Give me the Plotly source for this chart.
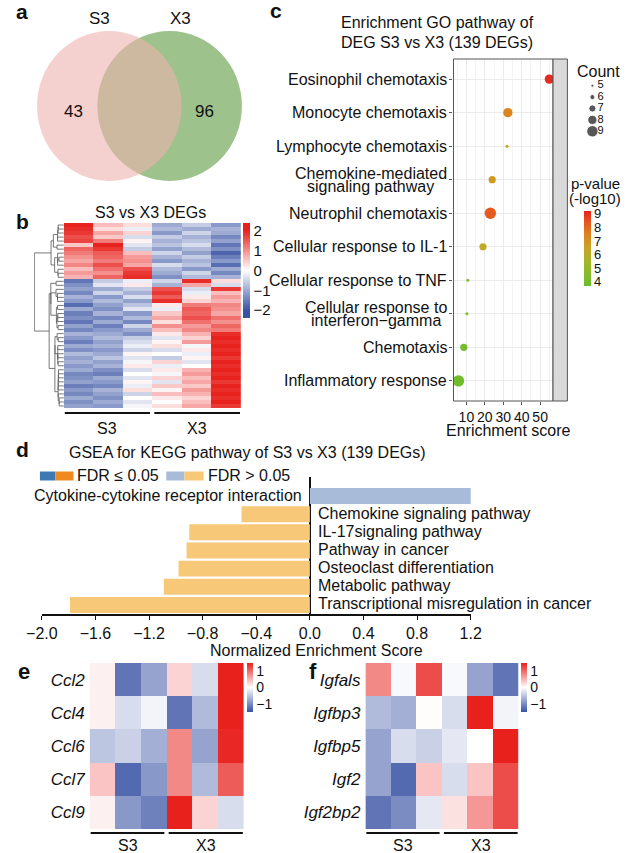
import numpy as np
import plotly.graph_objects as go

W, H = 632, 853
FONT = "Liberation Sans, Arial, Helvetica, sans-serif"


def px(x):
    return x / W


def py(y):
    return 1 - y / H


# ---------------- data ----------------
venn_labels = ["S3", "X3"]
venn_unique = [43, 96]

samples = ["S3-1", "S3-2", "S3-3", "X3-1", "X3-2", "X3-3"]
groups = ["S3", "X3"]

# z-scores of the DEGs (rows in displayed order)
deg_rows = [
    [2.0, 0.6, 0.3, -1.0, -0.6, -1.2],
    [1.9, 0.3, -0.2, -0.8, -1.0, -0.9],
    [1.8, 0.8, 0.4, -1.2, -0.5, -1.0],
    [1.6, 0.5, -0.4, -0.6, -0.9, -1.4],
    [1.7, 1.2, 0.1, -0.9, -0.7, -1.1],
    [0.5, 2.0, -0.3, -0.7, -0.4, -1.6],
    [1.4, 1.8, -0.6, -1.1, -0.8, -1.3],
    [1.2, 1.5, 0.6, -0.5, -1.1, -1.8],
    [1.0, 1.4, 0.9, -0.9, -0.6, -1.5],
    [0.8, 1.2, 1.0, -1.2, -0.9, -1.2],
    [1.1, 1.6, 0.8, -0.4, -0.7, -1.7],
    [0.6, 1.3, 1.6, -0.8, -1.2, -1.0],
    [0.9, 1.0, 1.8, -1.0, -0.5, -1.4],
    [0.7, 1.4, 1.9, -1.3, -0.8, -0.9],
    [-1.6, -0.6, -0.2, -0.5, 1.9, 0.3],
    [-1.3, -0.3, 0.2, -0.9, 0.8, -0.4],
    [-1.1, -1.0, -0.6, 1.6, -0.4, 1.8],
    [-1.4, -0.5, -0.9, 1.8, -0.2, 0.6],
    [-0.9, -1.2, -0.4, 1.5, 0.2, 0.9],
    [-1.2, -0.8, -1.1, 1.9, 0.4, 0.7],
    [-1.7, -1.1, -0.7, 0.2, 1.2, 1.1],
    [-1.0, -1.3, -0.3, -0.2, 1.5, 1.0],
    [-1.5, -0.9, -1.2, 0.5, 1.4, 0.8],
    [-1.3, -1.4, -0.8, 0.8, 1.6, 1.3],
    [-1.6, -1.0, -1.4, 0.3, 1.3, 1.0],
    [-1.1, -1.5, -0.5, 1.0, 0.9, 1.4],
    [-1.4, -1.2, -1.0, 0.6, 1.1, 1.2],
    [-0.9, -1.0, -1.3, 0.2, 0.7, 1.9],
    [-1.2, -0.8, -0.6, -0.3, 0.4, 2.0],
    [-1.5, -1.1, -0.4, 0.1, 0.9, 1.9],
    [-1.0, -0.9, -0.2, 0.3, -0.1, 2.0],
    [-1.3, -1.2, -0.5, -0.4, 0.2, 1.9],
    [-0.8, -1.0, 0.1, 0.0, -0.2, 2.0],
    [-1.1, -0.7, -0.3, -0.6, 0.1, 1.8],
    [-0.9, -1.1, -0.1, 0.4, -0.3, 2.0],
    [-1.2, -0.9, 0.2, -0.2, 0.0, 1.9],
    [-1.0, -1.3, -0.4, 0.2, 0.7, 2.0],
    [-1.4, -1.5, 0.0, -0.1, 0.9, 1.9],
    [-1.3, -1.0, -0.3, 0.4, 0.6, 2.0],
    [-1.1, -1.2, 0.1, -0.3, 0.8, 1.8],
    [-1.5, -1.4, -0.2, 0.5, 0.5, 2.0],
    [-1.2, -0.9, 0.3, 0.1, 0.9, 1.9],
    [-1.4, -1.1, -0.5, 0.6, 0.7, 2.0],
    [-1.0, -1.3, 0.0, 0.2, 0.4, 1.9],
    [-1.3, -1.0, -0.3, 0.0, 0.6, 2.0],
    [-1.1, -1.2, -0.1, 0.3, 0.8, 1.8],
]

go_terms = [
    "Eosinophil chemotaxis",
    "Monocyte chemotaxis",
    "Lymphocyte chemotaxis",
    "Chemokine-mediated\nsignaling pathway",
    "Neutrophil chemotaxis",
    "Cellular response to IL-1",
    "Cellular response to TNF",
    "Cellular response to\ninterferon\u2212gamma",
    "Chemotaxis",
    "Inflammatory response",
]
go_score = [55.0, 32.5, 32.0, 24.0, 23.0, 19.0, 10.8, 10.3, 8.6, 5.7]
go_count = [8, 8, 5, 7, 9, 7, 5, 5, 7, 9]
go_logp = [9.1, 7.4, 6.3, 6.8, 8.3, 6.2, 4.4, 4.2, 4.0, 3.9]
count_levels = [5, 6, 7, 8, 9]
score_ticks = [10, 20, 30, 40, 50]
logp_ticks = [4, 5, 6, 7, 8, 9]

kegg_paths = [
    "Cytokine-cytokine receptor interaction",
    "Chemokine signaling pathway",
    "IL-17signaling pathway",
    "Pathway in cancer",
    "Osteoclast differentiation",
    "Metabolic pathway",
    "Transcriptional misregulation in cancer",
]
kegg_nes = [1.24, -0.51, -0.90, -0.92, -0.98, -1.09, -1.79]
kegg_fdr_sig = [False, False, False, False, False, False, False]
nes_ticks = [-2.0, -1.6, -1.2, -0.8, -0.4, 0.0, 0.4, 0.8, 1.2]

e_genes = ["Ccl2", "Ccl4", "Ccl6", "Ccl7", "Ccl9"]
e_vals = [
    [0.1, -1.2, -0.8, 0.3, -0.3, 1.5],
    [0.1, -0.3, -0.1, -1.2, -0.6, 1.6],
    [-0.5, -0.4, -0.7, 0.8, -0.8, 1.45],
    [0.4, -1.3, -0.9, 0.8, -0.6, 1.1],
    [0.1, -0.9, -1.1, 1.6, 0.3, -0.3],
]
f_genes = ["Igfals", "Igfbp3", "Igfbp5", "Igf2", "Igf2bp2"]
f_vals = [
    [0.8, -0.05, 1.2, -0.05, -0.8, -1.2],
    [-0.6, -0.7, 0.02, -0.3, 1.55, -0.1],
    [-0.8, -0.3, -0.4, -0.2, 0.0, 1.55],
    [-0.8, -1.3, 0.4, -0.3, 0.4, 1.2],
    [-1.2, -1.0, -0.2, 0.2, 0.7, 1.2],
]

# ---------------- helpers ----------------
_lw = dict(zip("abcdefghijklmnopqrstuvwxyz",
               [556, 556, 500, 556, 556, 278, 556, 556, 222, 222, 500, 222, 833,
                556, 556, 556, 556, 333, 500, 278, 556, 500, 722, 500, 500, 500]))
_uw = dict(zip("ABCDEFGHIJKLMNOPQRSTUVWXYZ",
               [667, 667, 722, 722, 667, 611, 778, 722, 278, 500, 667, 556, 833,
                722, 778, 667, 778, 722, 667, 611, 722, 667, 944, 667, 667, 611]))
_ow = {" ": 278, "-": 333, "\u2212": 584, "(": 333, ")": 333}


def text_w(s, size):
    tot = 0
    for ch in s:
        tot += _lw.get(ch, _uw.get(ch, _ow.get(ch, 556)))
    return tot * size / 1000.0


def adjacent_ward(rows):
    X = np.asarray(rows, float)
    cl = [dict(n=1, c=X[i], pos=float(i), h=0.0) for i in range(len(X))]
    xs, ys = [], []
    while len(cl) > 1:
        best, bk = None, 0
        for k in range(len(cl) - 1):
            a, b = cl[k], cl[k + 1]
            d = np.sqrt(2 * a["n"] * b["n"] / (a["n"] + b["n"])) * np.linalg.norm(a["c"] - b["c"])
            if best is None or d < best:
                best, bk = d, k
        a, b = cl[bk], cl[bk + 1]
        h = max(best, a["h"], b["h"])
        xs += [a["h"], h, h, b["h"], None]
        ys += [a["pos"], a["pos"], b["pos"], b["pos"], None]
        n = a["n"] + b["n"]
        cl[bk:bk + 2] = [dict(n=n, c=(a["c"] * a["n"] + b["c"] * b["n"]) / n,
                              pos=(a["pos"] + b["pos"]) / 2, h=h)]
    return xs, ys


def count_to_size(c):
    return 3.0 + (c - 5) * 2.1


BWR = [[0, "#3953a4"], [0.08, "#3953a4"], [0.5, "#ffffff"], [0.92, "#e8211d"], [1, "#e8211d"]]
BWR2 = [[0, "#3953a4"], [0.5, "#ffffff"], [1, "#e8211d"]]
PSCALE = [[0, "#6bbd2e"], [0.3, "#9fb829"], [0.5, "#c9a424"], [0.7, "#de8020"],
          [0.85, "#e6561f"], [1, "#e9221f"]]

fig = go.Figure()
annotations = []
shapes = []


def ann(x, y, text, size=16, xanchor="center", yanchor="middle", **kw):
    d = dict(x=px(x), y=py(y), xref="paper", yref="paper", text=text, showarrow=False,
             xanchor=xanchor, yanchor=yanchor, font=dict(size=size, family=FONT, color="#111"))
    d.update(kw)
    annotations.append(d)


# ---------------- panel a : Venn ----------------
fig.add_trace(go.Scatter(x=[60, 197], y=[113, 113], mode="text",
                         text=[str(v) for v in venn_unique],
                         textfont=dict(size=17, family=FONT, color="#111"),
                         xaxis="x8", yaxis="y8", hoverinfo="skip"))
shapes.append(dict(type="circle", xref="x8", yref="y8", x0=85, x1=236, y0=31, y1=181,
                   fillcolor="#9ec28b", line=dict(width=0), layer="below"))
shapes.append(dict(type="circle", xref="x8", yref="y8", x0=22, x1=173, y0=31, y1=181,
                   fillcolor="rgb(237,177,175)", opacity=0.6, line=dict(width=0), layer="below"))
ann(87, 18, venn_labels[0], 17)
ann(172, 18, venn_labels[1], 17)
ann(6, 11, "<b>a</b>", 21)

# ---------------- panel b : heatmap + dendrogram ----------------
nrow = len(deg_rows)
fig.add_trace(go.Heatmap(z=deg_rows, x=list(range(len(samples))), y=list(range(nrow)),
                         colorscale=BWR, zmin=-2.4, zmax=2.4, xaxis="x2", yaxis="y2",
                         hoverinfo="skip",
                         colorbar=dict(x=px(237), xanchor="left", y=py(223), yanchor="top",
                                       len=95, lenmode="pixels", thickness=7, outlinewidth=0,
                                       xpad=0, ypad=0, tickvals=[-2, -1, 0, 1, 2],
                                       ticks="", tickfont=dict(size=15, family=FONT, color="#111"))))
dx, dy = adjacent_ward(deg_rows)
dx = [None if v is None else float(np.sqrt(v)) for v in dx]
dmax = max(v for v in dx if v is not None)
fig.add_trace(go.Scatter(x=dx, y=dy, mode="lines", line=dict(color="#555", width=0.8),
                         xaxis="x", yaxis="y", hoverinfo="skip"))
ann(140, 212, "S3 vs X3 DEGs", 16)
ann(7, 221, "<b>b</b>", 21)

# group bars helper


def group_bars(x0, x1, ybar, ylab):
    mid = (x0 + x1) / 2
    segs = [(x0 + 1, mid - 2.5), (mid + 2, x1 - 1)]
    for g, (a, b) in zip(groups, segs):
        shapes.append(dict(type="line", xref="paper", yref="paper", x0=px(a), x1=px(b),
                           y0=py(ybar), y1=py(ybar), line=dict(color="#111", width=2)))
        ann((a + b) / 2, ylab, g, 16)


group_bars(50, 235, 413, 428)

# ---------------- panel c : GO dot plot ----------------
fig.add_trace(go.Scatter(
    x=go_score, y=go_terms, mode="markers", xaxis="x3", yaxis="y3",
    marker=dict(size=[count_to_size(c) for c in go_count], color=go_logp,
                colorscale=PSCALE, cmin=3.7, cmax=9.2, line=dict(width=0), opacity=1,
                colorbar=dict(x=px(593), xanchor="left", y=py(211), yanchor="top",
                              len=75, lenmode="pixels", thickness=7, outlinewidth=0,
                              xpad=0, ypad=0, tickvals=logp_ticks, ticks="",
                              tickfont=dict(size=13, family=FONT, color="#111"))),
    hoverinfo="skip"))
# size legend
fig.add_trace(go.Scatter(x=[0.17] * len(count_levels), y=count_levels, mode="markers",
                         marker=dict(size=[count_to_size(c) for c in count_levels], color="#111"),
                         xaxis="x4", yaxis="y4", hoverinfo="skip"))
fig.add_trace(go.Scatter(x=[0.32] * len(count_levels), y=count_levels, mode="text",
                         text=[str(c) for c in count_levels], textposition="middle right",
                         textfont=dict(size=11, family=FONT, color="#111"),
                         xaxis="x4", yaxis="y4", hoverinfo="skip"))
ann(608, 71, "Count", 16)
ann(605, 183, "p-value", 15)
ann(605, 198, "(-log10)", 15)
ann(440, 23, "Enrichment GO pathway of", 16)
ann(440, 43, "DEG S3 vs X3 (139 DEGs)", 16)
ann(272, 10, "<b>c</b>", 21)
ann(515, 431, "Enrichment score", 16)
# y labels
for term in go_terms:
    lines = term.split("\n")
    n = len(lines)
    w0 = text_w(lines[0], 16)
    for i, ln in enumerate(lines):
        off = (i - (n - 1) / 2) * 13
        xs = 0 if i == 0 else -(w0 - text_w(ln, 16)) / 2
        annotations.append(dict(x=px(452), y=term, xref="paper", yref="y3", text=ln,
                                showarrow=False, xanchor="right", yanchor="middle",
                                xshift=xs, yshift=-off,
                                font=dict(size=16, family=FONT, color="#111")))
shapes.append(dict(type="rect", xref="x3 domain", yref="y3 domain", x0=0, x1=1, y0=0, y1=1,
                   line=dict(color="#555", width=1), fillcolor="rgba(0,0,0,0)"))
shapes.append(dict(type="rect", xref="paper", yref="paper", x0=px(561), x1=px(576),
                   y0=py(401), y1=py(59), line=dict(color="#555", width=1), fillcolor="#d9d9d9"))

# ---------------- panel d : GSEA bars ----------------
bar_cols = []
for v, s in zip(kegg_nes, kegg_fdr_sig):
    if v >= 0:
        bar_cols.append("#3e78b2" if s else "#a8bcd9")
    else:
        bar_cols.append("#ef8a1f" if s else "#f6c878")
fig.add_trace(go.Bar(x=kegg_nes, y=kegg_paths, orientation="h", marker=dict(color=bar_cols, line=dict(width=0)),
                     xaxis="x5", yaxis="y5", hoverinfo="skip"))
for p, v in zip(kegg_paths, kegg_nes):
    annotations.append(dict(x=0, y=p, xref="x5", yref="y5", text=p, showarrow=False,
                            xanchor="right" if v > 0 else "left", yanchor="middle",
                            xshift=-6 if v > 0 else 6, yshift=1,
                            font=dict(size=16, family=FONT, color="#111")))
ann(7, 450, "<b>d</b>", 21)
ann(53, 452, "GSEA for KEGG pathway of S3 vs X3 (139 DEGs)", 16, xanchor="left")
ann(314, 650, "Normalized Enrichment Score", 16)
# legend swatches
for (a, b), col in zip([(25, 41), (41, 60), (157, 176), (176, 196)],
                       ["#3e78b2", "#ef8a1f", "#a8bcd9", "#f6c878"]):
    shapes.append(dict(type="rect", xref="paper", yref="paper", x0=px(a), x1=px(b),
                       y0=py(480.5), y1=py(471.5), fillcolor=col, line=dict(width=0)))
ann(62, 476, "FDR \u2264 0.05", 16, xanchor="left")
ann(199, 476, "FDR > 0.05", 16, xanchor="left")

# ---------------- panels e, f : small heatmaps ----------------


def small_heat(z, genes, xa, ya, cbx):
    fig.add_trace(go.Heatmap(z=z, x=samples, y=genes, colorscale=BWR2, zmin=-1.5, zmax=1.5,
                             xaxis=xa, yaxis=ya, hoverinfo="skip",
                             colorbar=dict(x=px(cbx), xanchor="left", y=py(663), yanchor="top",
                                           len=49, lenmode="pixels", thickness=6, outlinewidth=0,
                                           xpad=0, ypad=0, tickvals=[-1, 0, 1], ticks="",
                                           tickfont=dict(size=14, family=FONT, color="#111"))))


small_heat(e_vals, e_genes, "x6", "y6", 241)
small_heat(f_vals, f_genes, "x7", "y7", 528)
ann(8, 671, "<b>e</b>", 22)
ann(304, 671, "<b>f</b>", 22, xanchor="left")
group_bars(77, 238, 833, 845)
group_bars(365, 525, 833, 845)

# ---------------- layout ----------------
hidden = dict(visible=False, showgrid=False, zeroline=False)
tickf = dict(size=16, family=FONT, color="#111")
layout = dict(
    width=W, height=H, margin=dict(l=0, r=0, t=0, b=0),
    paper_bgcolor="white", plot_bgcolor="white", showlegend=False,
    font=dict(family=FONT, color="#111"),
    bargap=0.12,
    # dendrogram
    xaxis=dict(hidden, domain=[px(19), px(50)], range=[dmax * 1.01, 0], anchor="y"),
    yaxis=dict(hidden, domain=[py(408), py(223)], range=[nrow - 0.5, -0.5], anchor="x"),
    # heatmap b
    xaxis2=dict(hidden, domain=[px(50), px(235)], range=[-0.5, 5.5], anchor="y2"),
    yaxis2=dict(hidden, domain=[py(408), py(223)], range=[nrow - 0.5, -0.5], anchor="x2"),
    # dot plot c
    xaxis3=dict(domain=[px(457), px(561)], range=[3, 57], tickvals=score_ticks, anchor="y3",
                showgrid=True, gridcolor="#ebebeb", gridwidth=1, zeroline=False, showline=False,
                ticks="outside", ticklen=3, tickcolor="#555", tickangle=0,
                tickfont=dict(size=14, family=FONT, color="#111"),
                minor=dict(tickvals=[5, 15, 25, 35, 45, 55], showgrid=True, gridcolor="#f4f4f4", ticks=""),
                fixedrange=True),
    yaxis3=dict(domain=[py(401), py(59)], type="category", categoryarray=go_terms,
                range=[9.6, -0.6], anchor="x3", showgrid=True, gridcolor="#ebebeb",
                showticklabels=False, ticks="outside", ticklen=3, tickcolor="#555",
                zeroline=False, showline=False),
    # size legend
    xaxis4=dict(hidden, domain=[px(596), px(632)], range=[0, 1], anchor="y4"),
    yaxis4=dict(hidden, domain=[py(137), py(80)], range=[9.5, 4.5], anchor="x4"),
    # bars d
    xaxis5=dict(domain=[px(27), px(475)], range=[-2.0, 1.2], tickvals=nes_ticks,
                tickformat=".1f", anchor="y5", showgrid=False, zeroline=True, zerolinecolor="#111",
                zerolinewidth=1.3, showline=True, linecolor="#111", linewidth=1.5,
                ticks="outside", ticklen=4, tickcolor="#111", tickfont=tickf, tickangle=0),
    yaxis5=dict(domain=[py(614), py(477)], type="category", categoryarray=kegg_paths,
                range=[6.5, -1.05], anchor="x5", showgrid=False, showticklabels=False,
                zeroline=False, showline=False, ticks=""),
    # heatmap e
    xaxis6=dict(hidden, domain=[px(77), px(238)], anchor="y6"),
    yaxis6=dict(domain=[py(829), py(663)], anchor="x6", autorange="reversed",
                tickvals=e_genes, ticktext=["<i>%s</i>" % g for g in e_genes],
                ticks="", showgrid=False, zeroline=False, showline=False,
                tickfont=dict(size=17, family=FONT, color="#111"), ticklabelstandoff=4),
    # heatmap f
    xaxis7=dict(hidden, domain=[px(365), px(525)], anchor="y7"),
    yaxis7=dict(domain=[py(829), py(663)], anchor="x7", autorange="reversed",
                tickvals=f_genes, ticktext=["<i>%s</i>" % g for g in f_genes],
                ticks="", showgrid=False, zeroline=False, showline=False,
                tickfont=dict(size=17, family=FONT, color="#111"), ticklabelstandoff=4),
    # venn
    xaxis8=dict(hidden, domain=[0, px(250)], range=[0, 250], anchor="y8"),
    yaxis8=dict(hidden, domain=[py(200), 1], range=[200, 0], anchor="x8"),
    annotations=annotations,
    shapes=shapes,
)
fig.update_layout(**layout)
fig.write_html("out.html", config={"displayModeBar": False, "staticPlot": True},
               post_script="document.body.style.margin='0px';document.body.style.overflow='hidden';")
